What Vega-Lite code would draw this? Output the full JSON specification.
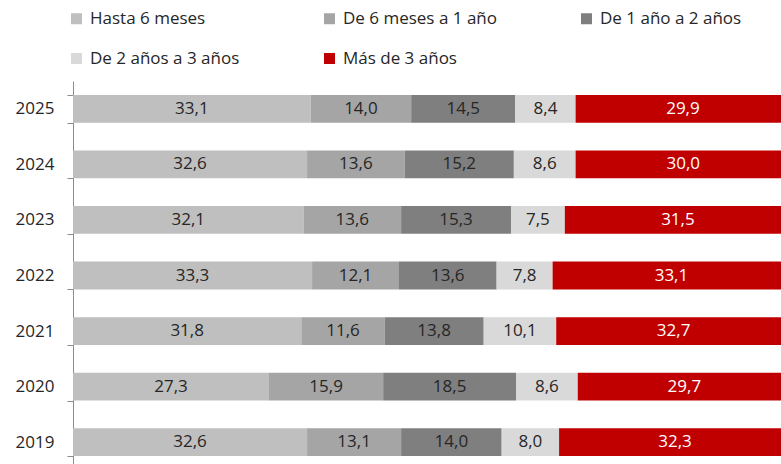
{
  "$schema": "https://vega.github.io/schema/vega-lite/v6.json",
  "autosize": {"type": "none"},
  "padding": {"left": 73, "top": 81, "right": 0, "bottom": 0},
  "width": 718,
  "height": 389,
  "background": "white",
  "config": {
    "locale": {"number": {"decimal": ",", "thousands": ".", "grouping": [3], "currency": ["", " €"]}},
    "font": "Open Sans",
    "view": {"stroke": null}
  },
  "data": {
    "values": [
      {"anio": "2025", "plazo": "Hasta 6 meses", "orden": 1, "valor": 33.1},
      {"anio": "2025", "plazo": "De 6 meses a 1 año", "orden": 2, "valor": 14.0},
      {"anio": "2025", "plazo": "De 1 año a 2 años", "orden": 3, "valor": 14.5},
      {"anio": "2025", "plazo": "De 2 años a 3 años", "orden": 4, "valor": 8.4},
      {"anio": "2025", "plazo": "Más de 3 años", "orden": 5, "valor": 29.9},
      {"anio": "2024", "plazo": "Hasta 6 meses", "orden": 1, "valor": 32.6},
      {"anio": "2024", "plazo": "De 6 meses a 1 año", "orden": 2, "valor": 13.6},
      {"anio": "2024", "plazo": "De 1 año a 2 años", "orden": 3, "valor": 15.2},
      {"anio": "2024", "plazo": "De 2 años a 3 años", "orden": 4, "valor": 8.6},
      {"anio": "2024", "plazo": "Más de 3 años", "orden": 5, "valor": 30.0},
      {"anio": "2023", "plazo": "Hasta 6 meses", "orden": 1, "valor": 32.1},
      {"anio": "2023", "plazo": "De 6 meses a 1 año", "orden": 2, "valor": 13.6},
      {"anio": "2023", "plazo": "De 1 año a 2 años", "orden": 3, "valor": 15.3},
      {"anio": "2023", "plazo": "De 2 años a 3 años", "orden": 4, "valor": 7.5},
      {"anio": "2023", "plazo": "Más de 3 años", "orden": 5, "valor": 31.5},
      {"anio": "2022", "plazo": "Hasta 6 meses", "orden": 1, "valor": 33.3},
      {"anio": "2022", "plazo": "De 6 meses a 1 año", "orden": 2, "valor": 12.1},
      {"anio": "2022", "plazo": "De 1 año a 2 años", "orden": 3, "valor": 13.6},
      {"anio": "2022", "plazo": "De 2 años a 3 años", "orden": 4, "valor": 7.8},
      {"anio": "2022", "plazo": "Más de 3 años", "orden": 5, "valor": 33.1},
      {"anio": "2021", "plazo": "Hasta 6 meses", "orden": 1, "valor": 31.8},
      {"anio": "2021", "plazo": "De 6 meses a 1 año", "orden": 2, "valor": 11.6},
      {"anio": "2021", "plazo": "De 1 año a 2 años", "orden": 3, "valor": 13.8},
      {"anio": "2021", "plazo": "De 2 años a 3 años", "orden": 4, "valor": 10.1},
      {"anio": "2021", "plazo": "Más de 3 años", "orden": 5, "valor": 32.7},
      {"anio": "2020", "plazo": "Hasta 6 meses", "orden": 1, "valor": 27.3},
      {"anio": "2020", "plazo": "De 6 meses a 1 año", "orden": 2, "valor": 15.9},
      {"anio": "2020", "plazo": "De 1 año a 2 años", "orden": 3, "valor": 18.5},
      {"anio": "2020", "plazo": "De 2 años a 3 años", "orden": 4, "valor": 8.6},
      {"anio": "2020", "plazo": "Más de 3 años", "orden": 5, "valor": 29.7},
      {"anio": "2019", "plazo": "Hasta 6 meses", "orden": 1, "valor": 32.6},
      {"anio": "2019", "plazo": "De 6 meses a 1 año", "orden": 2, "valor": 13.1},
      {"anio": "2019", "plazo": "De 1 año a 2 años", "orden": 3, "valor": 14.0},
      {"anio": "2019", "plazo": "De 2 años a 3 años", "orden": 4, "valor": 8.0},
      {"anio": "2019", "plazo": "Más de 3 años", "orden": 5, "valor": 32.3}
    ]
  },
  "transform": [
    {"stack": "valor", "groupby": ["anio"], "sort": [{"field": "orden", "order": "ascending"}], "as": ["v0", "v1"]},
    {"calculate": "(datum.v0 + datum.v1) / 2", "as": "vmid"}
  ],
  "encoding": {
    "y": {
      "field": "anio", "type": "nominal", "sort": "descending", "title": null,
      "scale": {"paddingInner": 0.5, "paddingOuter": 0.25},
      "axis": {
        "domainColor": "#8c8c8c", "tickColor": "#8c8c8c", "tickSize": 6, "tickBand": "extent",
        "labelFontSize": 17, "labelColor": "#262626", "labelPadding": 13, "labelFont": "Open Sans"
      }
    }
  },
  "layer": [
    {
      "mark": {"type": "bar"},
      "encoding": {
        "x": {"field": "v0", "type": "quantitative", "scale": {"domain": [0, 100], "nice": false}, "axis": null},
        "x2": {"field": "v1"},
        "color": {
          "field": "plazo", "type": "nominal", "title": null,
          "scale": {
            "domain": ["Hasta 6 meses", "De 6 meses a 1 año", "De 1 año a 2 años", "De 2 años a 3 años", "Más de 3 años"],
            "range": ["#bfbfbf", "#a5a5a5", "#7f7f7f", "#d9d9d9", "#c00000"]
          },
          "legend": {
            "orient": "none", "legendX": -5, "legendY": -71, "direction": "horizontal", "columns": 3,
            "symbolType": "square", "symbolSize": 121, "symbolStrokeWidth": 0,
            "labelFontSize": 17, "labelColor": "#262626", "labelOffset": 5, "labelFont": "Open Sans",
            "columnPadding": 81, "rowPadding": 22, "labelLimit": 300
          }
        }
      }
    },
    {
      "mark": {"type": "text", "fontSize": 17, "font": "Open Sans", "align": "center", "baseline": "middle"},
      "encoding": {
        "x": {"field": "vmid", "type": "quantitative"},
        "text": {"field": "valor", "type": "quantitative", "format": ".1f"},
        "color": {
          "condition": {"test": "datum.plazo === 'Más de 3 años'", "value": "white"},
          "value": "#262626"
        }
      }
    }
  ]
}
